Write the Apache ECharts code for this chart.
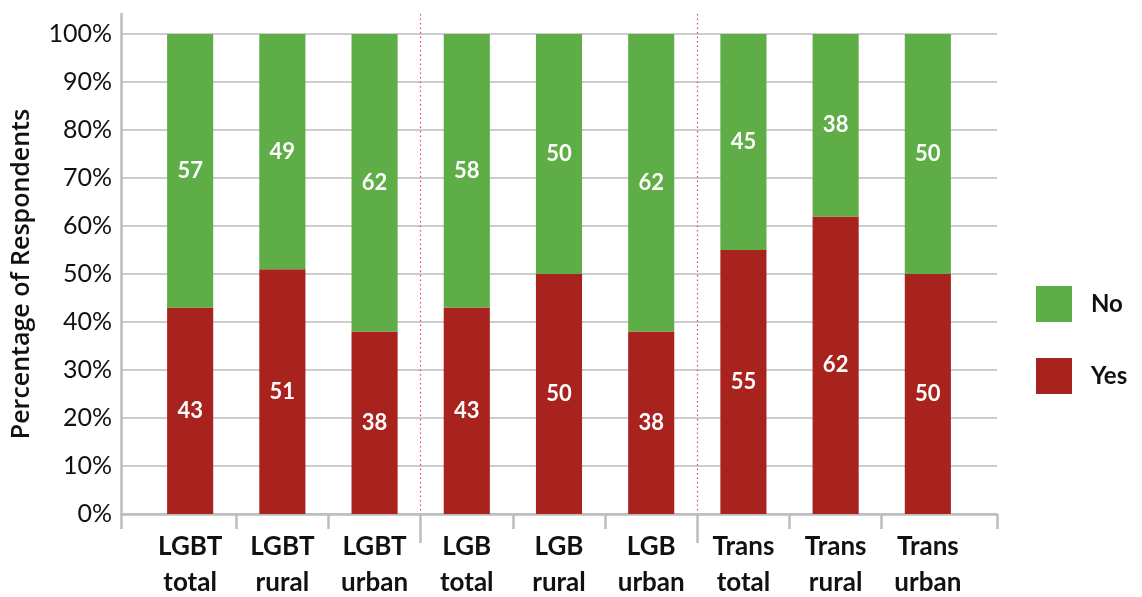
<!DOCTYPE html>
<html><head><meta charset="utf-8">
<script src="https://cdn.jsdelivr.net/npm/echarts@6/dist/echarts.min.js"></script>
<style>html,body{margin:0;padding:0;background:#fff}#c{width:1142px;height:597px}</style>
</head><body><div id="c"></div>
<script>
// ---- data ----
const categories = ['LGBT\ntotal','LGBT\nrural','LGBT\nurban','LGB\ntotal','LGB\nrural','LGB\nurban','Trans\ntotal','Trans\nrural','Trans\nurban'];
const yesValues = [43, 51, 38, 43, 50, 38, 55, 62, 50];
const noValues  = [57, 49, 62, 58, 50, 62, 45, 38, 50];
const groupBoundaries = [3, 6];
const yTickValues = [0, 10, 20, 30, 40, 50, 60, 70, 80, 90, 100];

// ---- layout ----
const FONT = 'Lato, "Open Sans", sans-serif';
const W = 1142, H = 597;
const AX_L = 121, AX_R = 997, PLOT_TOP = 34, PLOT_BOT = 514, AXIS_TOP = 14;
const PAD = 0.25;
const n = categories.length;
const band = (AX_R - AX_L) / (n + 2 * PAD);
const catLeft = AX_L + PAD * band;
const catRight = AX_R - PAD * band;
const yMaxExt = 100 * (PLOT_BOT - AXIS_TOP) / (PLOT_BOT - PLOT_TOP);

const shortTicks = [-PAD];
for (let i = 1; i < n; i++) if (!groupBoundaries.includes(i)) shortTicks.push(i);
shortTicks.push(n + PAD);

const RED = '#a8221e', GREEN = '#5fad46', GRAY = '#bdbdbd';

const chart = echarts.init(document.getElementById('c'), null, {renderer: 'canvas'});
chart.setOption({
  animation: false,
  textStyle: {fontFamily: FONT},
  legend: {
    data: ['No', 'Yes'],
    orient: 'vertical',
    left: 1036, top: 286,
    itemWidth: 36, itemHeight: 36, itemGap: 36,
    padding: 0,
    icon: 'rect',
    textStyle: {fontFamily: FONT, fontSize: 24, fontWeight: 'bold', color: '#111', padding: [0, 0, 0, 14]}
  },
  grid: [
    {left: AX_L, right: W - AX_R, top: AXIS_TOP, bottom: H - PLOT_BOT, containLabel: false, outerBoundsMode: 'none'},
    {left: catLeft, right: W - catRight, top: PLOT_TOP, bottom: H - PLOT_BOT, containLabel: false, outerBoundsMode: 'none'}
  ],
  xAxis: [
    {
      gridIndex: 0, type: 'value', min: -PAD, max: n + PAD,
      axisLine: {show: true, onZero: false, lineStyle: {color: GRAY, width: 2.5}},
      axisTick: {show: true, length: 15, customValues: shortTicks, lineStyle: {color: GRAY, width: 2.5}},
      axisLabel: {show: false}, splitLine: {show: false}
    },
    {
      gridIndex: 0, type: 'value', min: -PAD, max: n + PAD, position: 'bottom',
      axisLine: {show: false, onZero: false},
      axisTick: {show: true, length: 29, customValues: groupBoundaries, lineStyle: {color: GRAY, width: 2.5}},
      axisLabel: {show: false},
      splitLine: {show: true, lineStyle: {color: '#e8474a', width: 1.2, type: [1.5, 3]}}
    },
    {
      gridIndex: 1, type: 'category', data: categories,
      axisLine: {show: false, onZero: false}, axisTick: {show: false},
      axisLabel: {show: true, interval: 0, margin: 15, fontFamily: FONT, fontSize: 26, fontWeight: 'bold', color: '#111', lineHeight: 36}
    }
  ],
  yAxis: [
    {
      gridIndex: 0, type: 'value', min: 0, max: yMaxExt,
      axisLine: {show: true, onZero: false, lineStyle: {color: GRAY, width: 2.5}},
      axisTick: {show: false, customValues: yTickValues},
      axisLabel: {show: true, customValues: yTickValues, margin: 9, formatter: '{value}%', fontFamily: FONT, fontSize: 25, color: '#111'},
      splitLine: {show: true, lineStyle: {color: GRAY, width: 1.5}}
    },
    {
      gridIndex: 1, type: 'value', min: 0, max: 100,
      name: 'Percentage of Respondents', nameLocation: 'middle', nameGap: 110,
      nameTextStyle: {fontFamily: '"Open Sans", Lato, sans-serif', fontSize: 25, fontWeight: 600, color: '#111'},
      axisLine: {show: false, onZero: false}, axisTick: {show: false}, axisLabel: {show: false}, splitLine: {show: false}
    }
  ],
  series: [
    {
      name: 'Yes', type: 'bar', stack: 'total', xAxisIndex: 2, yAxisIndex: 1,
      data: yesValues, barWidth: '50%', itemStyle: {color: RED},
      label: {show: true, position: 'inside', color: '#fff', fontFamily: FONT, fontSize: 22, fontWeight: 'bold'}
    },
    {
      name: 'No', type: 'bar', stack: 'total', xAxisIndex: 2, yAxisIndex: 1,
      data: noValues, barWidth: '50%', itemStyle: {color: GREEN},
      label: {show: true, position: 'inside', color: '#fff', fontFamily: FONT, fontSize: 22, fontWeight: 'bold'}
    }
  ]
});
</script>
</body></html>
